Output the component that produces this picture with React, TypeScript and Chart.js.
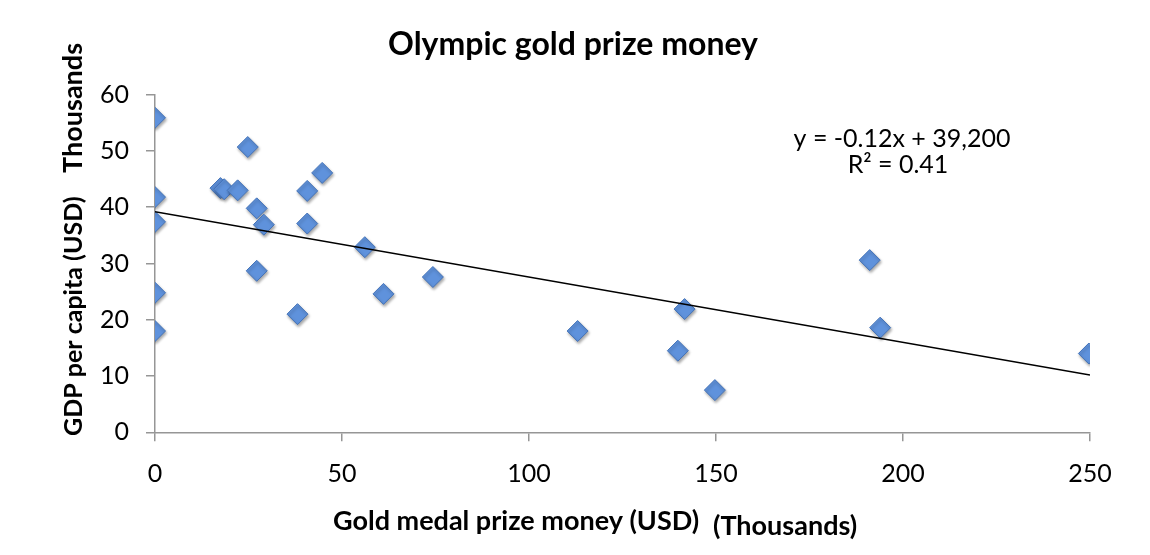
import React, { useEffect, useRef } from "react";
import { Chart, registerables } from "chart.js";

Chart.register(...registerables);

// Gold medal prize money (USD, thousands)
const prizeMoney = [0, 0, 0, 0, 0, 17.5, 18.5, 22.1, 24.8, 27.2, 29.1, 27.2, 38.1, 40.7, 40.7, 44.7, 56.1, 61.1, 74.3, 113.0, 139.8, 141.6, 149.7, 191.1, 193.9, 249.7];
// GDP per capita (USD, thousands)
const gdpPerCapita = [55.9, 41.8, 37.4, 24.8, 18.0, 43.4, 43.2, 43.0, 50.7, 39.8, 36.9, 28.7, 21.0, 42.9, 37.1, 46.1, 32.9, 24.6, 27.6, 18.0, 14.5, 21.9, 7.5, 30.6, 18.6, 14.0];
// Linear trendline end points
const trendX = [0, 250];
const trendY = [39.2, 10.2];

const xTicks = [0, 50, 100, 150, 200, 250];
const yTicks = [0, 10, 20, 30, 40, 50, 60];

const chartTitle = "Olympic gold prize money";
const xTitle = "Gold medal prize money (USD)";
const xUnit = "(Thousands)";
const yTitle = "GDP per capita (USD)";
const yUnit = "Thousands";
const equationText = "y = -0.12x + 39,200";
const r2Text = "R² = 0.41";

const FONT = "Lato, 'Open Sans', sans-serif";

const textPlugin = {
  id: "texts",
  afterDraw(chart: any) {
    const ctx = chart.ctx as CanvasRenderingContext2D;
    ctx.save();
    ctx.fillStyle = "#000";
    ctx.textBaseline = "alphabetic";
    // title
    ctx.font = `bold 32px ${FONT}`;
    ctx.textAlign = "center";
    ctx.fillText(chartTitle, 573, 55);
    // equation
    ctx.font = `25px ${FONT}`;
    ctx.fillText(equationText, 902, 147);
    ctx.fillText(r2Text, 898, 173);
    // x title
    ctx.font = `bold 27px ${FONT}`;
    ctx.textAlign = "left";
    ctx.fillText(xTitle, 333, 530);
    ctx.fillText(xUnit, 713, 535);
    // y title
    ctx.translate(82, 436);
    ctx.rotate(-Math.PI / 2);
    ctx.font = `bold 25px ${FONT}`;
    ctx.fillText(yTitle, 0, 0);
    ctx.font = `bold 27px ${FONT}`;
    ctx.textAlign = "right";
    ctx.fillText(yUnit, 393, 0);
    ctx.restore();
  },
};

const shadowPlugin = {
  id: "pointShadow",
  beforeDatasetDraw(chart: any, args: any) {
    if (args.index === 1) {
      const ctx = chart.ctx;
      ctx.save();
      ctx.shadowColor = "rgba(0,0,0,0.35)";
      ctx.shadowBlur = 3;
      ctx.shadowOffsetX = 1;
      ctx.shadowOffsetY = 2;
    }
  },
  afterDatasetDraw(chart: any, args: any) {
    if (args.index === 1) chart.ctx.restore();
  },
};

export default function App() {
  const ref = useRef<HTMLCanvasElement | null>(null);

  useEffect(() => {
    document.body.style.margin = "0";
    if (!ref.current) return;
    const chart = new Chart(ref.current, {
      type: "scatter",
      data: {
        datasets: [
          {
            type: "line",
            data: trendX.map((x, i) => ({ x, y: trendY[i] })),
            borderColor: "#000",
            borderWidth: 1.5,
            pointRadius: 0,
            fill: false,
          } as any,
          {
            data: prizeMoney.map((x, i) => ({ x, y: gdpPerCapita[i] })),
            pointStyle: "rectRot",
            pointRadius: 10.5,
            backgroundColor: "#5f92dc",
            borderColor: "#4473b8",
            borderWidth: 1,
          },
        ],
      },
      options: {
        animation: false,
        responsive: true,
        maintainAspectRatio: false,
        layout: { padding: { left: 0, top: 94.7, right: 60, bottom: 0 } },
        plugins: { legend: { display: false }, tooltip: { enabled: false }, title: { display: false } },
        scales: {
          x: {
            type: "linear",
            min: 0,
            max: 250,
            afterFit(scale: any) {
              scale.height = 122.7;
            },
            afterBuildTicks(scale: any) {
              scale.ticks = xTicks.map((v) => ({ value: v }));
            },
            ticks: { color: "#000", font: { family: FONT, size: 25 }, padding: 18 },
            grid: { drawOnChartArea: false, drawTicks: true, tickLength: 9, color: "#969696", lineWidth: 1.5 },
            border: { display: true, color: "#969696", width: 1.5 },
          },
          y: {
            type: "linear",
            min: 0,
            max: 60,
            afterFit(scale: any) {
              scale.width = 155;
            },
            afterBuildTicks(scale: any) {
              scale.ticks = yTicks.map((v) => ({ value: v }));
            },
            ticks: { color: "#000", font: { family: FONT, size: 25 }, padding: 17 },
            grid: { drawOnChartArea: false, drawTicks: true, tickLength: 9, color: "#969696", lineWidth: 1.5 },
            border: { display: true, color: "#969696", width: 1.5 },
          },
        },
      },
      plugins: [textPlugin, shadowPlugin],
    });
    return () => chart.destroy();
  }, []);

  return (
    <div style={{ position: "relative", width: 1150, height: 555, background: "#fff" }}>
      <canvas ref={ref} />
    </div>
  );
}
